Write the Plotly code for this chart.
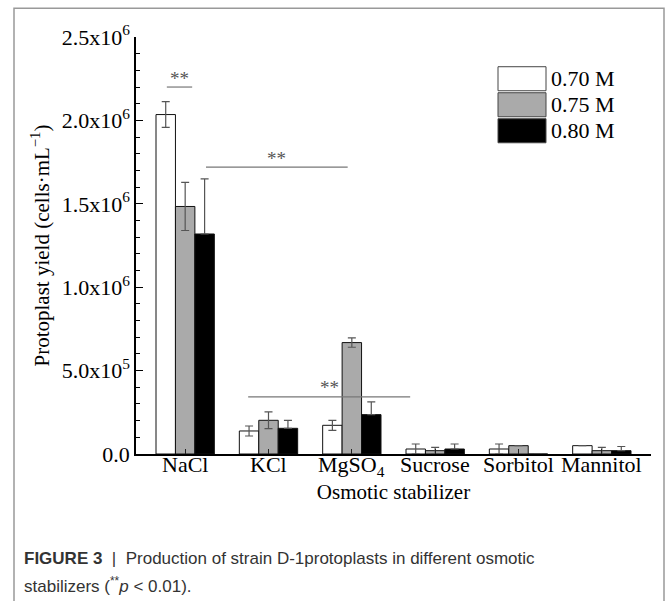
import plotly.graph_objects as go

categories = ["NaCl", "KCl", "MgSO<sub>4</sub>", "Sucrose", "Sorbitol", "Mannitol"]
series_names = ["0.70 M", "0.75 M", "0.80 M"]
vals_070 = [2.035e6, 0.138e6, 0.172e6, 0.030e6, 0.030e6, 0.050e6]
vals_075 = [1.484e6, 0.202e6, 0.668e6, 0.020e6, 0.050e6, 0.020e6]
vals_080 = [1.319e6, 0.154e6, 0.236e6, 0.030e6, 0.000e6, 0.020e6]
err_070 = [0.077e6, 0.030e6, 0.030e6, 0.030e6, 0.030e6, 0.0]
err_075 = [0.144e6, 0.050e6, 0.028e6, 0.020e6, 0.0, 0.020e6]
err_080 = [0.330e6, 0.048e6, 0.076e6, 0.030e6, 0.0, 0.025e6]
ytick_vals = [0, 0.5e6, 1.0e6, 1.5e6, 2.0e6, 2.5e6]
ytick_text = ["0.0", "5.0x10<sup>5</sup>", "1.0x10<sup>6</sup>", "1.5x10<sup>6</sup>",
              "2.0x10<sup>6</sup>", "2.5x10<sup>6</sup>"]
fill_colors = ["#ffffff", "#aaaaaa", "#000000"]

SERIF = "Liberation Serif, Times New Roman, serif"
SANS = "Liberation Sans Narrow, Arial Narrow, Liberation Sans, sans-serif"
x_idx = list(range(len(categories)))

fig = go.Figure()
for name, vals, errs, col in zip(series_names, [vals_070, vals_075, vals_080],
                                 [err_070, err_075, err_080], fill_colors):
    if col == "#000000":
        ey = dict(type="data", symmetric=False, array=errs, arrayminus=[0] * len(errs),
                  color="#555555", thickness=1.2, width=4)
    else:
        ey = dict(type="data", array=errs, color="#555555", thickness=1.2, width=4)
    fig.add_trace(go.Bar(x=x_idx, y=vals, name=name,
                         marker=dict(color=col, line=dict(color="#111", width=1)),
                         error_y=ey, showlegend=False))

# category labels placed just under the axis line
for xi, lab in zip(x_idx, categories):
    fig.add_annotation(x=xi, xref="x", y=0, yref="paper", yanchor="top", yshift=3, borderpad=0,
                       text=lab, showarrow=False, font=dict(family=SERIF, size=22, color="#000"))

# significance markers (data coordinates)
sig = [(-0.22, 0.084, 2.2e6), (0.25, 1.95, 1.72e6), (0.756, 2.70, 0.342e6)]
for x0, x1, yv in sig:
    fig.add_shape(type="line", xref="x", yref="y", x0=x0, x1=x1, y0=yv, y1=yv,
                  line=dict(color="#777777", width=1.2))
    fig.add_annotation(x=(x0 + x1) / 2, y=yv, xref="x", yref="y", text="**", showarrow=False,
                       yanchor="middle", yshift=9, font=dict(family=SERIF, size=19, color="#555"))

# manual legend (paper coords)
L, W = 136, 515
H = 416.7
def px(v): return (v - L) / W
def py(v): return (454 - v) / H
rows = [(67, 91), (93, 117), (119, 143)]
for (y0, y1), name, col in zip(rows, series_names, fill_colors):
    fig.add_shape(type="rect", xref="paper", yref="paper", x0=px(498), x1=px(546), y0=py(y1), y1=py(y0),
                  fillcolor=col, line=dict(color="#444", width=1))
    fig.add_annotation(xref="paper", yref="paper", x=px(549), y=py((y0 + y1) / 2), text=name,
                       showarrow=False, xanchor="left", yanchor="middle",
                       font=dict(family=SERIF, size=22, color="#000"))

# outer figure border
fig.add_shape(type="rect", xref="paper", yref="paper", x0=px(14), x1=px(664), y0=py(640), y1=py(8.5),
              line=dict(color="#999999", width=1.5), fillcolor="rgba(0,0,0,0)", layer="below")

# caption
fig.add_annotation(xref="paper", yref="paper", x=px(22), y=py(558), xanchor="left", yanchor="middle",
                   showarrow=False, align="left",
                   text="<b>FIGURE 3</b>  |  Production of strain D-1protoplasts in different osmotic",
                   font=dict(family=SANS, size=17, color="#333"))
fig.add_annotation(xref="paper", yref="paper", x=px(22), y=py(585), xanchor="left", yanchor="middle",
                   showarrow=False, align="left",
                   text="stabilizers (<sup>**</sup><i>p</i> < 0.01).",
                   font=dict(family=SANS, size=17, color="#333"))

fig.update_layout(
    width=670, height=601,
    margin=dict(l=136, r=19, t=37, b=147),
    paper_bgcolor="white", plot_bgcolor="white",
    barmode="group", bargap=0.30, bargroupgap=0,
    font=dict(family=SERIF, size=20, color="#000"),
    xaxis=dict(tickmode="array", tickvals=x_idx, showticklabels=False, range=[-0.59, 5.59],
               showline=True, linecolor="#000", linewidth=1.5, ticks="inside", ticklen=5, tickcolor="#222",
               layer="above traces",
               title=dict(text="Osmotic stabilizer", standoff=30, font=dict(family=SERIF, size=21)),
               showgrid=False, zeroline=False),
    yaxis=dict(range=[0, 2.5e6], tickmode="array", tickvals=ytick_vals, ticktext=ytick_text,
               showline=True, linecolor="#000", linewidth=1.5, ticks="inside", ticklen=7, tickcolor="#000",
               minor=dict(dtick=1e5, ticks="inside", ticklen=4, tickcolor="#000", showgrid=False),
               title=dict(text="Protoplast yield (cells·mL<sup>−1</sup>)", standoff=6,
                          font=dict(family=SERIF, size=21)),
               tickfont=dict(family=SERIF, size=22), showgrid=False, zeroline=False),
)

fig.write_html("out.html")
